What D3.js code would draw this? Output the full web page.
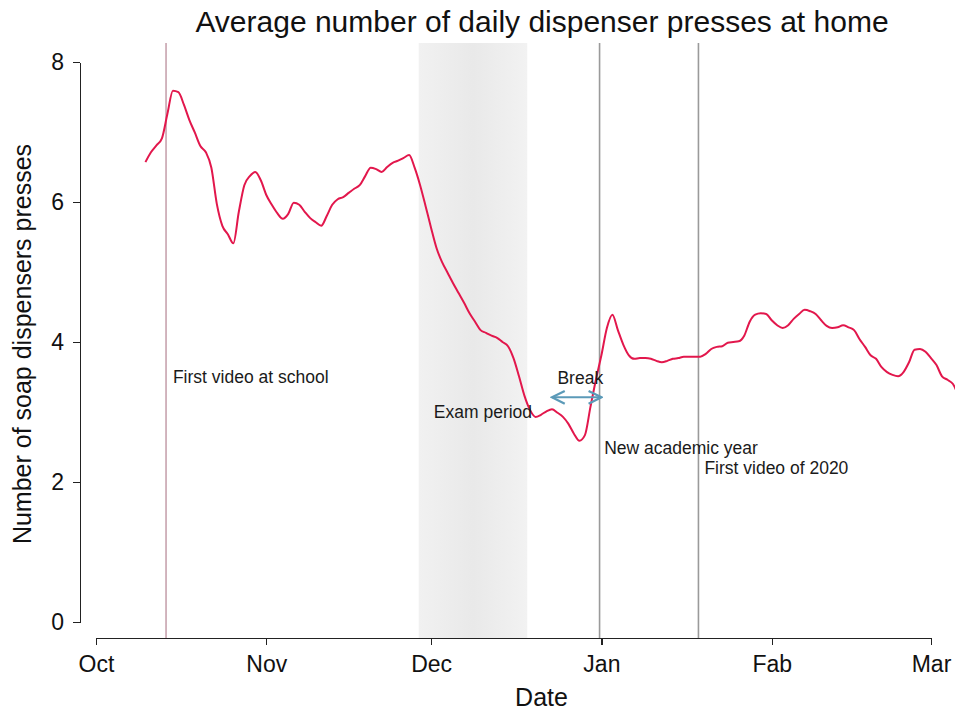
<!DOCTYPE html>
<html>
<head>
  <meta charset="utf-8">
  <title>Average number of daily dispenser presses at home</title>
  <style>
    body { margin: 0; background: #fff; }
    svg { font-family: "Liberation Sans", Arial, sans-serif; }
    .axis path,
    .axis line {
      fill: none;
      stroke: #222;
      stroke-width: 1.3;
      shape-rendering: crispEdges;
    }
    .axis text {
      font-size: 23px;
      fill: #111;
    }
    .note {
      font-size: 17.5px;
      fill: #1a1a1a;
    }
  </style>
  <script src="https://d3js.org/d3.v7.min.js"></script>
</head>
<body>
  <script>
    // 1. data (one value per day, Oct 10 2019 .. Mar 6 2020)
    var dates = d3.timeDay.range(new Date(2019, 9, 10), new Date(2020, 2, 7));
    var presses = [
      6.57, 6.71, 6.81, 6.91, 7.26, 7.59, 7.57, 7.39, 7.17, 6.99,
      6.80, 6.71, 6.49, 5.97, 5.66, 5.54, 5.41, 5.86, 6.24, 6.37,
      6.43, 6.31, 6.10, 5.96, 5.84, 5.76, 5.83, 5.99, 5.96, 5.86,
      5.77, 5.71, 5.66, 5.80, 5.96, 6.04, 6.07, 6.13, 6.19, 6.24,
      6.37, 6.49, 6.47, 6.43, 6.50, 6.56, 6.59, 6.63, 6.67, 6.49,
      6.24, 5.94, 5.63, 5.34, 5.14, 4.99, 4.84, 4.70, 4.56, 4.41,
      4.29, 4.17, 4.13, 4.09, 4.06, 4.00, 3.94, 3.77, 3.51, 3.23,
      3.03, 2.93, 2.96, 3.01, 3.04, 2.99, 2.93, 2.83, 2.69, 2.59,
      2.67, 3.07, 3.46, 3.81, 4.20, 4.39, 4.17, 3.96, 3.81, 3.76,
      3.77, 3.77, 3.76, 3.73, 3.71, 3.73, 3.76, 3.77, 3.79, 3.79,
      3.79, 3.79, 3.83, 3.90, 3.93, 3.94, 3.99, 4.00, 4.01, 4.09,
      4.29, 4.39, 4.41, 4.40, 4.31, 4.24, 4.20, 4.24, 4.33, 4.40,
      4.46, 4.44, 4.40, 4.31, 4.23, 4.20, 4.21, 4.24, 4.21, 4.17,
      4.04, 3.93, 3.81, 3.76, 3.64, 3.57, 3.53, 3.51, 3.57, 3.71,
      3.89, 3.90, 3.86, 3.77, 3.67, 3.51, 3.46, 3.40, 3.23
    ];
    var monthTicks = [new Date(2019, 9, 1), new Date(2019, 10, 1), new Date(2019, 11, 1),
                      new Date(2020, 0, 1), new Date(2020, 1, 1), new Date(2020, 2, 1)];
    var monthLabels = ['Oct', 'Nov', 'Dec', 'Jan', 'Fab', 'Mar'];
    var yTicks = [0, 2, 4, 6, 8];

    // events: vertical lines
    var eventDates = [new Date(2019, 9, 13, 18), new Date(2019, 11, 31, 16), new Date(2020, 0, 18, 16)];
    var eventColors = ['#c7a3ae', '#9a9a9a', '#9a9a9a'];
    // exam period shading
    var examPeriod = [new Date(2019, 10, 28, 18), new Date(2019, 11, 18, 12)];
    // break arrow: from, to, level
    var breakSpan = [new Date(2019, 11, 23), new Date(2020, 0, 1)];
    var breakLevel = 3.21;
    // text notes: label, date, level
    var noteLabels = ['First video at school', 'Exam period', 'Break', 'New academic year', 'First video of 2020'];
    var noteDates = [new Date(2019, 9, 15), new Date(2019, 11, 1, 12), new Date(2019, 11, 24),
                     new Date(2020, 0, 1, 12), new Date(2020, 0, 19, 18)];
    var noteLevels = [3.41, 2.91, 3.40, 2.40, 2.11];

    var data = dates.map(function(d, i) { return {date: d, value: presses[i]}; });

    // 2. canvas and scales
    var width = 955, height = 713;
    var svg = d3.select('body').append('svg')
      .attr('width', width)
      .attr('height', height);

    var x = d3.scaleTime()
      .domain([monthTicks[0], monthTicks[monthTicks.length - 1]])
      .range([96, 931]);
    var y = d3.scaleLinear()
      .domain([0, 8])
      .range([622, 62]);
    var plotTop = 43, axisY = 638;

    // 3. shading + event lines
    var grad = svg.append('defs').append('linearGradient')
      .attr('id', 'exam');
    grad.append('stop').attr('offset', '0%').attr('stop-color', '#f1f1f1');
    grad.append('stop').attr('offset', '50%').attr('stop-color', '#e9e9e9');
    grad.append('stop').attr('offset', '100%').attr('stop-color', '#f2f2f2');

    svg.append('rect')
      .attr('x', x(examPeriod[0]))
      .attr('y', plotTop)
      .attr('width', x(examPeriod[1]) - x(examPeriod[0]))
      .attr('height', axisY - plotTop)
      .attr('fill', 'url(#exam)');

    svg.selectAll('.event')
      .data(eventDates)
      .enter()
      .append('line')
      .attr('class', 'event')
      .attr('x1', d => x(d)).attr('x2', d => x(d))
      .attr('y1', plotTop).attr('y2', axisY)
      .attr('stroke', (d, i) => eventColors[i])
      .attr('stroke-width', 1.6);

    // 4. the series
    var line = d3.line()
      .curve(d3.curveMonotoneX)
      .x(d => x(d.date))
      .y(d => y(d.value));
    svg.append('path')
      .datum(data)
      .attr('d', line)
      .attr('fill', 'none')
      .attr('stroke', '#e2174c')
      .attr('stroke-width', 2)
      .attr('stroke-linejoin', 'round');

    // break arrow
    svg.select('defs').append('marker')
      .attr('id', 'head')
      .attr('viewBox', '0 0 10 10')
      .attr('refX', 9).attr('refY', 5)
      .attr('markerWidth', 8).attr('markerHeight', 8)
      .attr('orient', 'auto-start-reverse')
      .append('path')
      .attr('d', 'M1,1 L9,5 L1,9')
      .attr('fill', 'none')
      .attr('stroke', '#5b9ab8')
      .attr('stroke-width', 1.4);
    svg.append('line')
      .attr('x1', x(breakSpan[0])).attr('x2', x(breakSpan[1]))
      .attr('y1', y(breakLevel)).attr('y2', y(breakLevel))
      .attr('stroke', '#5b9ab8')
      .attr('stroke-width', 2)
      .attr('marker-start', 'url(#head)')
      .attr('marker-end', 'url(#head)');

    // notes
    svg.selectAll('.note')
      .data(noteLabels)
      .enter()
      .append('text')
      .attr('class', 'note')
      .attr('x', (d, i) => x(noteDates[i]))
      .attr('y', (d, i) => y(noteLevels[i]))
      .text(d => d);

    // 5. axes
    var xAxis = d3.axisBottom(x)
      .tickValues(monthTicks)
      .tickFormat((d, i) => monthLabels[i])
      .tickSize(7)
      .tickSizeOuter(0)
      .tickPadding(11);
    svg.append('g')
      .attr('class', 'axis')
      .attr('transform', 'translate(0,' + axisY + ')')
      .call(xAxis);

    var yAxis = d3.axisLeft(y)
      .tickValues(yTicks)
      .tickSize(7)
      .tickSizeOuter(0)
      .tickPadding(9);
    svg.append('g')
      .attr('class', 'axis')
      .attr('transform', 'translate(80,0)')
      .call(yAxis);

    // titles
    svg.append('text')
      .attr('x', 542).attr('y', 32)
      .attr('text-anchor', 'middle')
      .style('font-size', '30px')
      .attr('fill', '#111')
      .text('Average number of daily dispenser presses at home');

    svg.append('text')
      .attr('x', (x.range()[0] + x.range()[1]) / 2 + 28).attr('y', 706)
      .attr('text-anchor', 'middle')
      .style('font-size', '25px')
      .attr('fill', '#111')
      .text('Date');

    svg.append('text')
      .attr('transform', 'translate(31,' + 344 + ') rotate(-90)')
      .attr('text-anchor', 'middle')
      .style('font-size', '25px')
      .attr('fill', '#111')
      .text('Number of soap dispensers presses');
  </script>
</body>
</html>
